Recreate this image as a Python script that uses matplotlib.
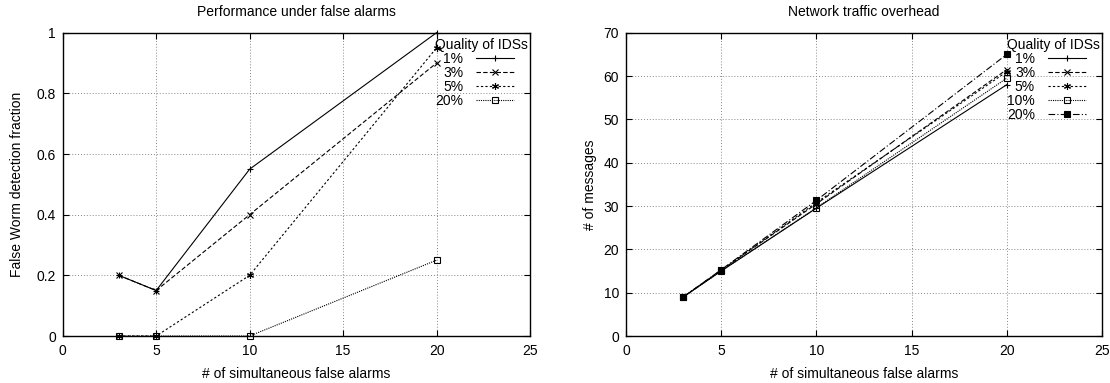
import matplotlib
matplotlib.use('Agg')
import matplotlib.pyplot as plt

plt.rcParams['font.family'] = ['Liberation Sans', 'DejaVu Sans']
plt.rcParams['font.size'] = 10

# Datos
x = [3, 5, 10, 20]

# Panel izquierdo: fracción de detección falsa
fa_labels = ['1%', '3%', '5%', '20%']
fa_1 = [0.2, 0.15, 0.55, 1.0]
fa_3 = [0.2, 0.15, 0.4, 0.9]
fa_5 = [0.0, 0.0, 0.2, 0.95]
fa_20 = [0.0, 0.0, 0.0, 0.25]

# Panel derecho: número de mensajes
nt_labels = ['1%', '3%', '5%', '10%', '20%']
nt_1 = [9.0, 15.0, 29.5, 58.0]
nt_3 = [9.0, 15.2, 30.5, 61.5]
nt_5 = [9.0, 15.2, 30.8, 61.0]
nt_10 = [9.0, 15.0, 29.6, 59.5]
nt_20 = [9.0, 15.3, 31.3, 65.0]

estilos = [
    dict(ls='-', marker='+', ms=5, mfc='none'),
    dict(ls=(0, (4, 2)), marker='x', ms=4, mfc='none'),
    dict(ls=(0, (2, 2)), marker=(6, 2, 0), ms=5, mfc='none'),
    dict(ls=(0, (1, 1)), marker='s', ms=4, mfc='none'),
    dict(ls=(0, (6, 2, 1, 2)), marker='s', ms=4.5, mfc='black'),
]


def preparar(ax, ymax, yticks):
    ax.set_xlim(0, 25)
    ax.set_ylim(0, ymax)
    ax.set_xticks([0, 5, 10, 15, 20, 25])
    ax.set_yticks(yticks)
    ax.tick_params(direction='in', top=True, right=True, length=4)
    ax.tick_params(axis='x', pad=6)
    ax.tick_params(axis='y', pad=5)
    ax.grid(True, ls=(0, (1, 2)), color='#888888', lw=0.7)
    ax.set_xlabel('# of simultaneous false alarms', labelpad=6)
    for s in ax.spines.values():
        s.set_linewidth(1.0)


fig = plt.figure(figsize=(11.1, 3.83), dpi=100)
ax1 = fig.add_axes([0.0565, 0.1227, 0.421, 0.792])
ax2 = fig.add_axes([0.564, 0.1227, 0.4288, 0.792])

series1 = [fa_1, fa_3, fa_5, fa_20]
for y, lab, st in zip(series1, fa_labels, estilos[:4]):
    ax1.plot(x, y, color='black', lw=0.8, mew=0.8, label=lab, clip_on=False, **st)
preparar(ax1, 1, [0, 0.2, 0.4, 0.6, 0.8, 1])
ax1.set_yticklabels(['0', '0.2', '0.4', '0.6', '0.8', '1'])
ax1.set_ylabel('False Worm detection fraction', labelpad=9)
ax1.set_title('Performance under false alarms', fontsize=10, pad=12)

series2 = [nt_1, nt_3, nt_5, nt_10, nt_20]
for y, lab, st in zip(series2, nt_labels, estilos):
    ax2.plot(x, y, color='black', lw=0.8, mew=0.8, label=lab, clip_on=False, **st)
preparar(ax2, 70, [0, 10, 20, 30, 40, 50, 60, 70])
ax2.set_ylabel('# of messages', labelpad=4.5)
ax2.set_title('Network traffic overhead', fontsize=10, pad=12)

for ax in (ax1, ax2):
    ax.legend(loc='upper right', bbox_to_anchor=(1.0, 0.99), title='Quality of IDSs',
              frameon=False, markerfirst=False, handlelength=2.8, fontsize=10,
              title_fontsize=10, borderaxespad=0, labelspacing=0.0,
              handletextpad=0.9, borderpad=0.15, alignment='left')

fig.savefig('out.png', dpi=100)
